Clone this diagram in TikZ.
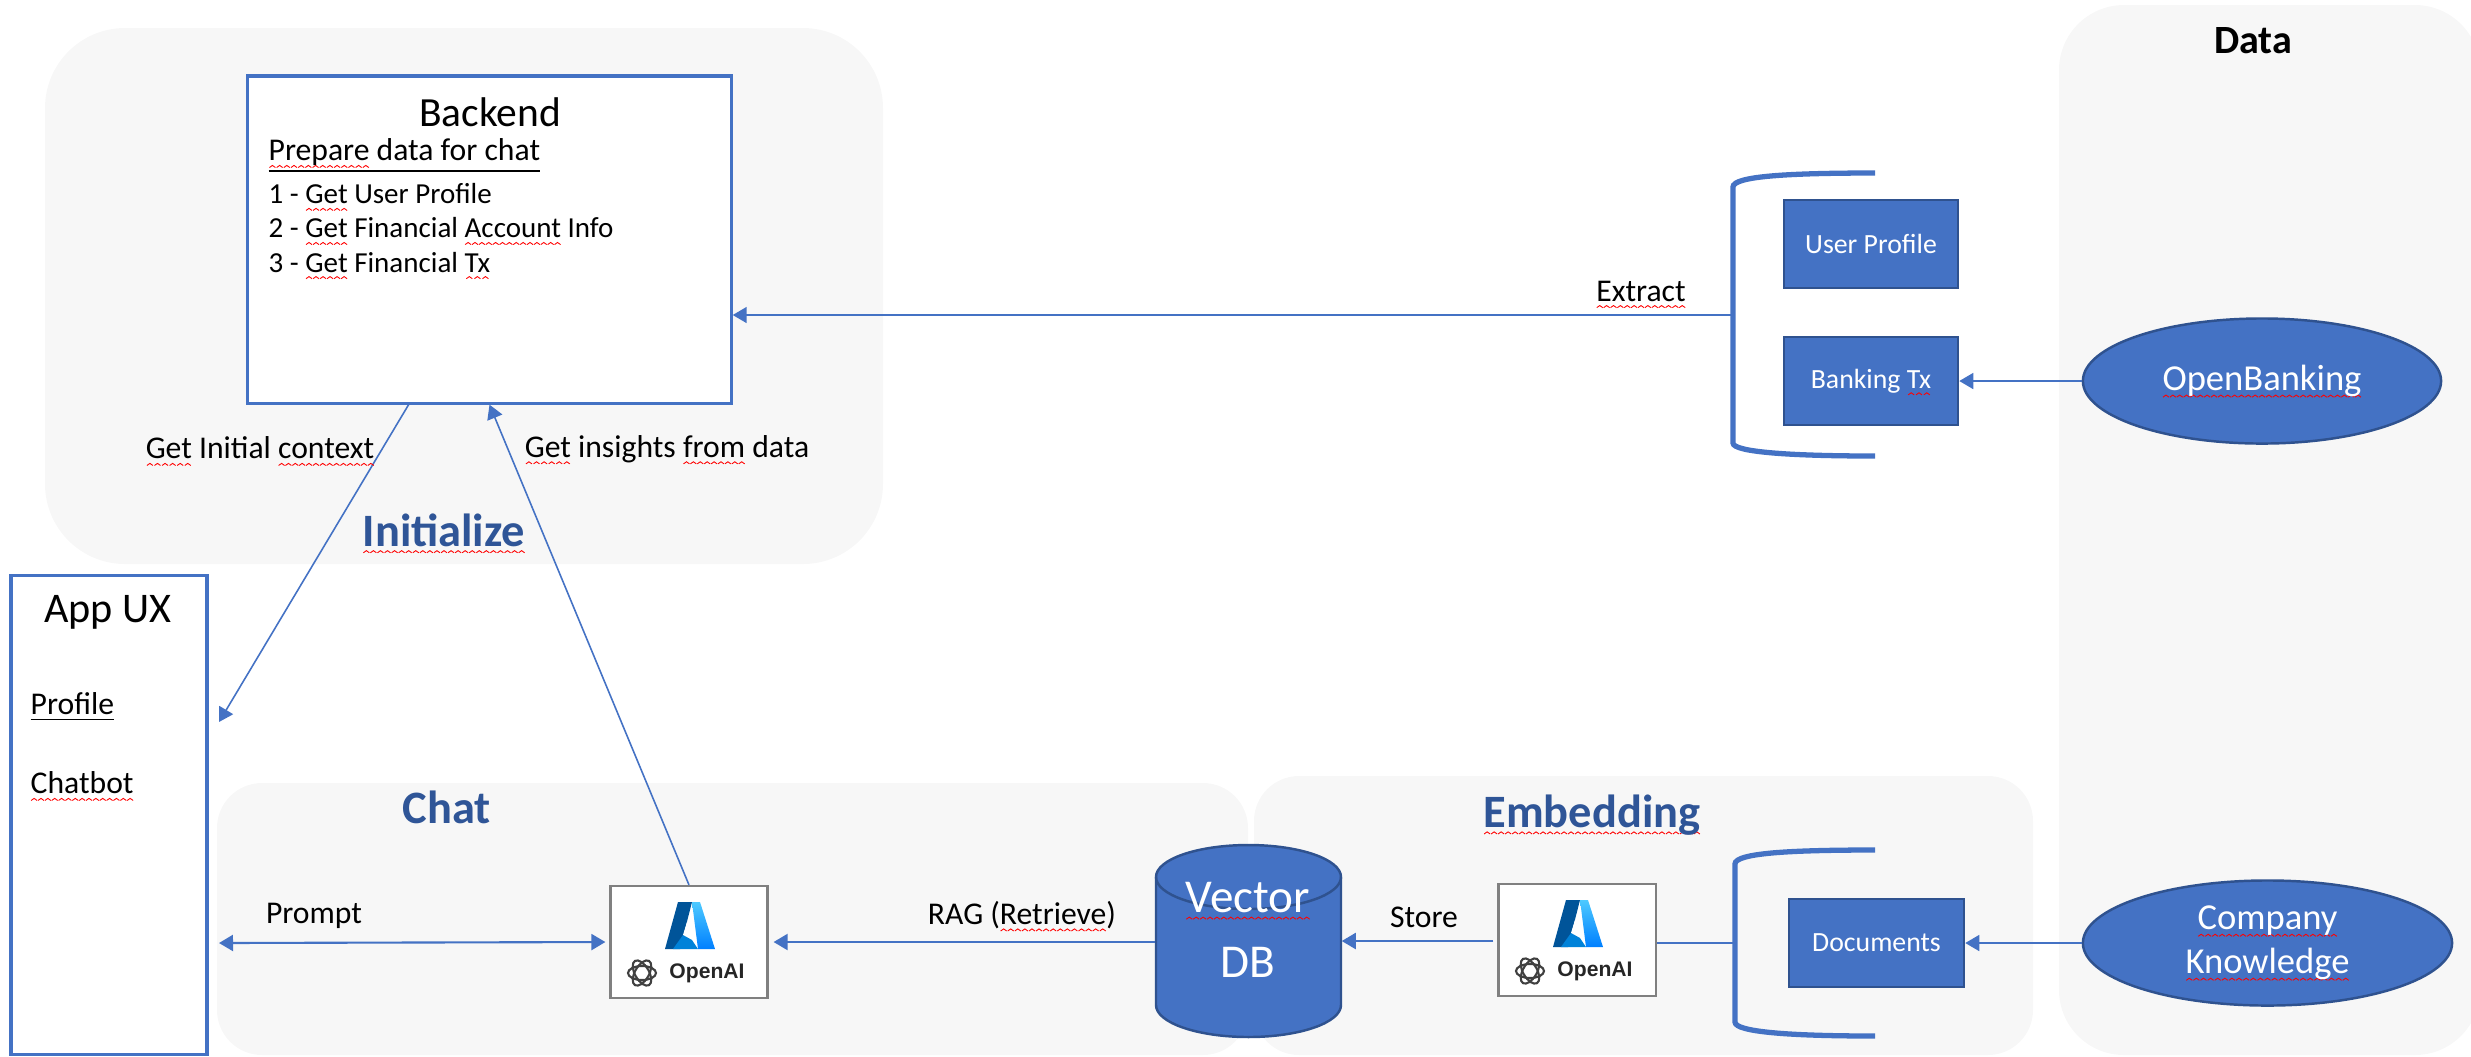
\documentclass[tikz,border=0pt]{standalone}
\usepackage{fontspec}
\usepackage{tikz}
\usetikzlibrary{shapes.geometric,arrows.meta}
\setmainfont{Carlito}
\newfontfamily\logofont{Liberation Sans}
\definecolor{colo}{HTML}{4472C4}
\definecolor{coloedge}{HTML}{2F528F}
\definecolor{colohead}{HTML}{2F5597}
\definecolor{panelgray}{HTML}{F7F7F7}
\newsavebox{\wavebox}
\newsavebox{\wordbox}
\newcommand{\fs}[2]{\fontsize{#1}{#2}\selectfont}
\newcommand{\sq}[1]{\sbox{\wordbox}{#1}\rlap{\smash{\raisebox{-2pt}{\hbox to \wd\wordbox{\xleaders\copy\wavebox\hfil}}}}\usebox{\wordbox}}
\tikzstyle{panel}=[fill=panelgray]
\tikzstyle{whitebox}=[draw=colo,fill=white,line width=0.9pt,inner sep=0pt]
\tikzstyle{bluebox}=[draw=coloedge,fill=colo,line width=0.7pt,minimum width=1.74cm,minimum height=0.88cm,inner sep=0pt,text=white,font=\fs{7.9}{9.5}]
\tikzstyle{blueoval}=[ellipse,draw=coloedge,fill=colo,line width=0.7pt,inner sep=0pt,text=white,align=center,font=\fs{10.4}{12.5}]
\tikzstyle{logobox}=[draw=gray,fill=white,line width=0.6pt,minimum width=1.57cm,minimum height=1.12cm,inner sep=0pt]
\tikzstyle{flow}=[draw=colo,line width=0.45pt,-{Triangle[length=0.14cm,width=0.16cm]}]
\tikzstyle{flowfat}=[draw=colo,line width=0.6pt,-{Triangle[length=0.14cm,width=0.16cm]}]
\tikzstyle{bracket}=[draw=colo,line width=1.5pt]
\tikzstyle{lbl}=[inner sep=0pt,font=\fs{9}{10.5}]
\tikzstyle{head}=[inner sep=0pt,text=colohead,font=\fs{13.2}{15}\bfseries]
\newcommand{\azurelogo}[1]{
  \begin{scope}[shift={(#1)}]
    \fill[blue!45!cyan!60!black] (-11,-40) -- (3,-40) -- (-9,7) -- (-24,7) -- cycle;
    \shade[top color=cyan!70!blue!70,bottom color=blue!50!cyan] (3,-40) -- (11,-40) -- (26,7) -- (9,7) -- cycle;
    \fill[blue!40!cyan!85!black] (-16,7) -- (-6,-7) -- (3,-2) -- (9,7) -- cycle;
    \fill[white] (-6,-7) -- (-2,-20) -- (3,-6) -- cycle;
    \foreach \a in {0,60,120}
      \draw[black!75,line width=0.6pt,shift={(-47,31)},rotate=\a] (0,0) ellipse (14 and 7);
    \node[inner sep=0pt,text=black!85,font=\logofont\fs{6}{8}\bfseries] (logotext) at (18,31) {OpenAI};
  \end{scope}
}

\begin{document}
\sbox{\wavebox}{\pgfpicture\pgfsetlinewidth{0.25pt}\pgfsetstrokecolor{red}\pgfpathmoveto{\pgfpoint{0pt}{0pt}}\pgfpathlineto{\pgfpoint{0.85pt}{0.6pt}}\pgfpathlineto{\pgfpoint{1.7pt}{0pt}}\pgfusepath{stroke}\endpgfpicture}
\begin{tikzpicture}[x=0.01cm,y=-0.01cm]
\useasboundingbox (0,0) rectangle (2471,1056);

  % panels
  \fill[panel,rounded corners=0.8cm] (45,28) rectangle (883,564);
  \fill[panel,rounded corners=0.45cm] (217,783) rectangle (1248,1055);
  \fill[panel,rounded corners=0.45cm] (1254,776) rectangle (2033,1055);
  \fill[panel,rounded corners=0.65cm] (2059,5) rectangle (2480,1055);

  \node[head] (initHead) at (444,530) {\sq{Initialize}};
  \node[head] (chatHead) at (447,807) {Chat};
  \node[head] (embedHead) at (1592,815) {\sq{Embedding}};
  \node[inner sep=0pt,font=\fs{11.4}{13}\bfseries] (dataHead) at (2253,41) {Data};

  % backend
  \node[whitebox,minimum width=4.83cm,minimum height=3.27cm] (backend) at (489.5,239.5) {};
  \node[inner sep=0pt,font=\fs{11.8}{14}] (backendTitle) at (490,112) {Backend};
  \node[lbl,anchor=west] (prepare) at (268,156) {\underline{\sq{Prepare} data for chat}};
  \node[lbl,anchor=west,align=left,font=\fs{8.25}{9.7}] (steps) at (268,228) {1 - \sq{Get} User Profile\\2 - \sq{Get} Financial \sq{Account} Info\\3 - \sq{Get} Financial \sq{Tx}};

  % app
  \node[whitebox,minimum width=1.96cm,minimum height=4.78cm] (appUx) at (109,815) {};
  \node[inner sep=0pt,font=\fs{12}{14}] (appTitle) at (108,612) {App UX};
  \node[inner sep=0pt,anchor=west,font=\fs{9}{11}] (appProfile) at (30,707) {\underline{Profile}};
  \node[inner sep=0pt,anchor=west,font=\fs{9}{11}] (appChatbot) at (30,783) {\sq{Chatbot}};

  % openai boxes
  \node[logobox] (chatLogo) at (689,942) {};
  \node[logobox] (embedLogo) at (1577,940) {};
  \azurelogo{689,942}
  \azurelogo{1577,940}

  % vector db
  \node[minimum width=1.85cm,minimum height=1.92cm,inner sep=0pt] (vectorDb) at (1248.5,941) {};
  \draw[draw=coloedge,fill=colo,line width=0.7pt] (1156,877) -- (1156,1005) arc[start angle=180,end angle=0,x radius=92.5,y radius=32] -- (1341,877) arc[start angle=0,end angle=-180,x radius=92.5,y radius=32] -- cycle;
  \draw[draw=coloedge,line width=0.7pt] (1156,877) arc[start angle=180,end angle=0,x radius=92.5,y radius=32];
  \node[inner sep=0pt,text=white,align=center,font=\fs{13.4}{18.5}] (vectorText) at (1248,930) {\sq{Vector}\\DB};

  % data sources
  \node[bluebox] (userProfile) at (1871,244) {User Profile};
  \node[bluebox] (bankingTx) at (1871,381) {Banking \sq{Tx}};
  \node[bluebox,minimum width=1.75cm] (documents) at (1876.5,943) {Documents};
  \node[blueoval,minimum width=3.58cm,minimum height=1.25cm] (openBanking) at (2262,381) {\sq{OpenBanking}};
  \node[blueoval,minimum width=3.69cm,minimum height=1.25cm] (company) at (2267.5,943) {\sq{Company}\\\sq{Knowledge}};

  % brackets
  \draw[bracket] (1875,173) .. controls (1790,173) and (1733,176) .. (1733,187) -- (1733,443) .. controls (1733,452) and (1790,456) .. (1875,456);
  \draw[bracket] (1875,850) .. controls (1790,850) and (1735,853) .. (1735,864) -- (1735,1022) .. controls (1735,1032) and (1790,1036) .. (1875,1036);
  \coordinate (bracketTop) at (1733,315);
  \coordinate (bracketLow) at (1735,943);

  % connectors
  \coordinate (contextOut) at (409,404);
  \coordinate (appIn) at (219,722);
  \coordinate (promptEnd) at (219,943);
  \draw[flow] (bracketTop) -- (bracketTop -| backend.east);
  \draw[flow] (contextOut) -- (appIn);
  \draw[flow] (chatLogo.north) -- (backend.south);
  \draw[flowfat,{Triangle[length=0.14cm,width=0.16cm]}-{Triangle[length=0.14cm,width=0.16cm]},shorten >=0.04cm] (promptEnd) -- (chatLogo.west);
  \draw[flowfat,shorten >=0.05cm] (vectorDb.west |- chatLogo) -- (chatLogo.east);
  \draw[flowfat,shorten <=0.04cm] (embedLogo.west |- vectorDb) -- (vectorDb.east);
  \draw[draw=colo,line width=0.6pt] (bracketLow) -- (bracketLow -| embedLogo.east);
  \draw[flow] (openBanking.west) -- (bankingTx.east);
  \draw[flow] (company.west) -- (documents.east);

  % connector labels
  \node[lbl] (lblContext) at (260,448) {\sq{Get} Initial \sq{context}};
  \node[lbl] (lblInsights) at (667,449) {\sq{Get} insights \sq{from} data};
  \node[lbl] (lblExtract) at (1641,291) {\sq{Extract}};
  \node[lbl] (lblPrompt) at (314,916) {Prompt};
  \node[lbl] (lblRag) at (1022,915) {RAG (\sq{Retrieve})};
  \node[lbl] (lblStore) at (1424,917) {Store};

\end{tikzpicture}
\end{document}
